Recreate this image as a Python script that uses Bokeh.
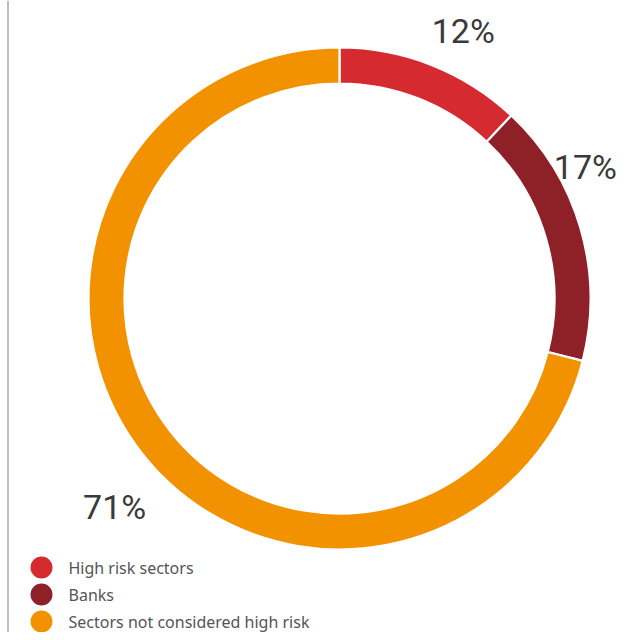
import math
from bokeh.plotting import figure
from bokeh.models import Range1d, ColumnDataSource
from bokeh.core.properties import value
from bokeh.embed import file_html
from bokeh.resources import INLINE

# ---- data ----
categories = ["High risk sectors", "Banks", "Sectors not considered high risk"]
shares = [12, 17, 71]
pct_labels = ["12%", "17%", "71%"]
colors = ["#d52a30", "#8e2027", "#f39200"]

# ---- style / layout ----
W, H = 622, 632
CX, CY = 339, H - 298          # centre in data coords (y measured from bottom)
R_OUT, R_IN = 250, 216
label_nudge_deg = [3.2, -12.0, -5.1]
label_radius = [295, 279, 307]

p = figure(width=W, height=H, output_backend="svg", toolbar_location=None,
           x_range=Range1d(0, W), y_range=Range1d(0, H),
           x_axis_location=None, y_axis_location=None, min_border=0,
           background_fill_color="white", border_fill_color="white")
p.grid.visible = False
p.outline_line_color = None

total = sum(shares)
starts, ends, mids = [], [], []
cum = 0.0
for s in shares:
    a0 = cum / total
    cum += s
    a1 = cum / total
    starts.append(math.pi / 2 - 2 * math.pi * a0)
    ends.append(math.pi / 2 - 2 * math.pi * a1)
    mids.append((a0 + a1) / 2 * 360)

src = ColumnDataSource(dict(start=starts, end=ends, color=colors))
p.annular_wedge(x=CX, y=CY, inner_radius=R_IN - 1, outer_radius=R_OUT + 1,
                start_angle="start", end_angle="end", direction="clock",
                fill_color="color", line_color="white", line_width=2.2,
                source=src)

# percentage labels
lx, ly = [], []
for m, nd, r in zip(mids, label_nudge_deg, label_radius):
    th = math.radians(m + nd)
    lx.append(CX + r * math.sin(th))
    ly.append(CY + r * math.cos(th))
p.text(x=lx, y=ly, text=pct_labels, text_align="center", text_baseline="middle",
       text_font=value("Roboto"), text_font_size="34px",
       text_color="#3a3a3a")

# left rule
p.segment(x0=[7.5], y0=[0], x1=[7.5], y1=[H], line_color="#a8a8a8", line_width=1.5)

# legend
leg_y = [H - 567, H - 594, H - 621]
p.scatter(x=[41] * 3, y=leg_y, size=22, marker="circle", fill_color=colors, line_color=None)
p.text(x=[68] * 3, y=leg_y, text=categories, text_align="left", text_baseline="middle",
       text_font=value("Noto Sans"), text_font_size="16px", text_color="#555555")

open("out.html", "w").write(file_html(p, INLINE))
